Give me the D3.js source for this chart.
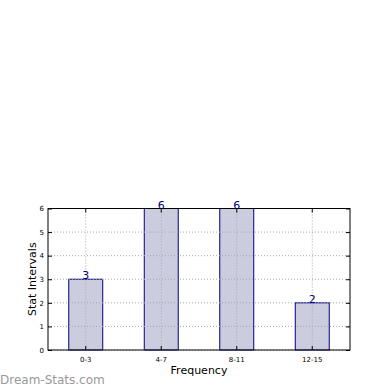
<!DOCTYPE html>
<html>
<head>
<meta charset="utf-8">
<script src="https://cdn.jsdelivr.net/npm/d3@7"></script>
<style>
body { margin: 0; background: #fff; }
text { font-family: "DejaVu Sans", sans-serif; }
</style>
</head>
<body>
<svg id="chart" width="390" height="390"></svg>
<script>
var categories = ["0-3", "4-7", "8-11", "12-15"];
var counts = [3, 6, 6, 2];
var yTicks = [0, 1, 2, 3, 4, 5, 6];

var plotLeft = 48, plotRight = 350, plotTop = 208.5, plotBottom = 350;

var svg = d3.select('#chart');

var x = d3.scaleBand()
    .domain(categories)
    .range([plotLeft, plotRight])
    .paddingInner(0.55)
    .paddingOuter(0.275);

var y = d3.scaleLinear()
    .domain([0, 6])
    .range([plotBottom, plotTop]);

// bars
svg.append('g').selectAll('rect')
    .data(counts)
    .enter().append('rect')
    .attr('x', (d, i) => x(categories[i]))
    .attr('y', d => y(d))
    .attr('width', x.bandwidth())
    .attr('height', d => plotBottom - y(d))
    .attr('fill', '#ccccdf')
    .attr('stroke', '#000080')
    .attr('stroke-width', 1);

// grid (drawn over the bars)
svg.append('g').selectAll('line')
    .data(yTicks)
    .enter().append('line')
    .attr('x1', plotLeft).attr('x2', plotRight)
    .attr('y1', d => y(d)).attr('y2', d => y(d))
    .attr('stroke', '#a8a8a8')
    .attr('stroke-dasharray', '1,2');

svg.append('g').selectAll('line')
    .data(categories)
    .enter().append('line')
    .attr('x1', d => x(d) + x.bandwidth() / 2).attr('x2', d => x(d) + x.bandwidth() / 2)
    .attr('y1', plotTop).attr('y2', plotBottom)
    .attr('stroke', '#a8a8a8')
    .attr('stroke-dasharray', '1,2');

// value labels
svg.append('g').selectAll('text')
    .data(counts)
    .enter().append('text')
    .text(d => d)
    .attr('x', (d, i) => x(categories[i]) + x.bandwidth() / 2)
    .attr('y', d => y(d))
    .attr('text-anchor', 'middle')
    .attr('fill', '#000080')
    .style('font-size', '11px');

// axes
const yAxis = d3.axisLeft(y).tickValues(yTicks).tickFormat(d3.format('d')).tickSize(-4).tickPadding(4);
const yAxisR = d3.axisRight(y).tickValues(yTicks).tickSize(-4).tickFormat('');
const xAxis = d3.axisBottom(x).tickSize(-4).tickPadding(7);
const xAxisT = d3.axisTop(x).tickSize(-4).tickFormat('');

function styleAxis(g) {
    g.select('.domain').remove();
    g.selectAll('line').attr('stroke', '#000');
    g.selectAll('text').style('font-size', '7px').attr('fill', '#000');
}

svg.append('g').attr('transform', 'translate(' + plotLeft + ',0)').call(yAxis).call(styleAxis);
svg.append('g').attr('transform', 'translate(' + plotRight + ',0)').call(yAxisR).call(styleAxis);
svg.append('g').attr('transform', 'translate(0,' + plotBottom + ')').call(xAxis).call(styleAxis);
svg.append('g').attr('transform', 'translate(0,' + plotTop + ')').call(xAxisT).call(styleAxis);

svg.append('rect')
    .attr('x', plotLeft).attr('y', plotTop)
    .attr('width', plotRight - plotLeft).attr('height', plotBottom - plotTop)
    .attr('fill', 'none')
    .attr('stroke', '#000')
    .attr('stroke-width', 1);

// axis labels
svg.append('text')
    .text('Frequency')
    .attr('x', (plotLeft + plotRight) / 2)
    .attr('y', 374)
    .attr('text-anchor', 'middle')
    .style('font-size', '11px');

svg.append('text')
    .text('Stat Intervals')
    .attr('transform', 'translate(36,' + ((plotTop + plotBottom) / 2) + ') rotate(-90)')
    .attr('text-anchor', 'middle')
    .style('font-size', '11px');

svg.append('text')
    .text('Dream-Stats.com')
    .attr('x', 0)
    .attr('y', 384)
    .attr('fill', '#999')
    .style('font-size', '12px');
</script>
</body>
</html>
